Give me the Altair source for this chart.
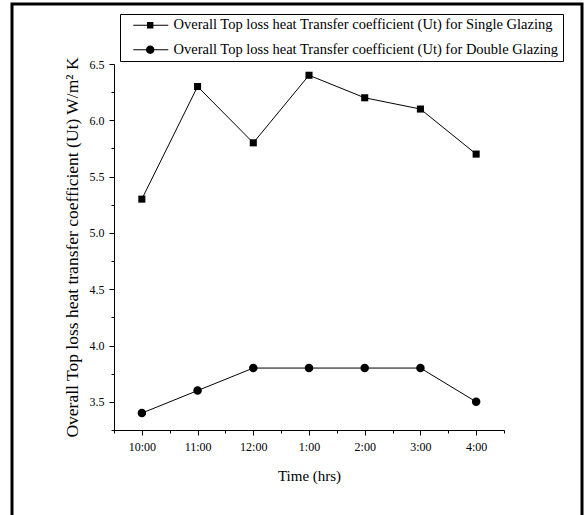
import altair as alt
import pandas as pd

# ---- data ----
times = ["10:00", "11:00", "12:00", "1:00", "2:00", "3:00", "4:00"]
single_glazing = [5.3, 6.3, 5.8, 6.4, 6.2, 6.1, 5.7]
double_glazing = [3.4, 3.6, 3.8, 3.8, 3.8, 3.8, 3.5]
series_names = [
    "Overall Top loss heat Transfer coefficient (Ut) for Single Glazing",
    "Overall Top loss heat Transfer coefficient (Ut) for Double Glazing",
]
x_title = "Time (hrs)"
y_title = "Overall Top loss heat transfer coefficient (Ut) W/m\u00b2 K"

rows = []
for vals, name in zip([single_glazing, double_glazing], series_names):
    for i, (t, v) in enumerate(zip(times, vals)):
        rows.append({"idx": i, "time": t, "value": v, "series": name})
df = pd.DataFrame(rows)

FONT = "Liberation Serif"
label_array = "[" + ",".join("'" + t + "'" for t in times) + "]"
x_vals = [k / 2 for k in range(-1, 14)]          # -0.5 .. 6.5 (major + minor)
y_vals = [3.25 + 0.25 * k for k in range(14)]    # 3.25 .. 6.5 (major + minor)

x_major_test = "datum.value % 1 == 0"
y_major_test = "abs(datum.value*2 - round(datum.value*2)) < 0.001"

x_enc = alt.X(
    "idx:Q",
    scale=alt.Scale(domain=[-0.5, 6.5], nice=False, zero=False),
    axis=alt.Axis(
        values=x_vals,
        labelExpr=x_major_test + " ? " + label_array + "[datum.value] : ''",
        title=x_title,
        grid=False,
        orient="bottom",
        tickSize={"condition": {"test": x_major_test, "value": 5}, "value": 3},
        labelOverlap=False,
        labelFlush=False,
        labelPadding=6,
        titlePadding=16,
    ),
)
y_enc = alt.Y(
    "value:Q",
    scale=alt.Scale(domain=[3.25, 6.5], nice=False, zero=False),
    axis=alt.Axis(
        values=y_vals,
        labelExpr=y_major_test + " ? format(datum.value, '.1f') : ''",
        title=y_title,
        grid=False,
        orient="left",
        tickSize={"condition": {"test": y_major_test, "value": 5}, "value": 3},
        labelOverlap=False,
        labelFlush=False,
        labelPadding=5,
        titlePadding=8,
    ),
)

base = alt.Chart(df)

lines = base.mark_line(color="black", strokeWidth=1).encode(x=x_enc, y=y_enc, detail="series:N")

points = base.mark_point(filled=True, color="black", opacity=1).encode(
    x=x_enc,
    y=y_enc,
    shape=alt.Shape("series:N", scale=alt.Scale(domain=series_names, range=["square", "circle"]), legend=None),
    size=alt.Size("series:N", scale=alt.Scale(domain=series_names, range=[50, 72]), legend=None),
)

# legend glyphs: a thin filled bar (the line) plus the marker, offset to the right
line_bar = "M0.29,-0.08H5.29V0.08H0.29Z"
sq_path = line_bar + "M2.26,-0.45H3.16V0.45H2.26Z"
ci_path = line_bar + "M3.31,0A0.6,0.6,0,1,1,2.11,0A0.6,0.6,0,1,1,3.31,0Z"

legend_layer = base.mark_point(filled=True, color="black", opacity=0).encode(
    x=x_enc,
    y=y_enc,
    shape=alt.Shape(
        "series:N",
        scale=alt.Scale(domain=series_names, range=[sq_path, ci_path]),
        legend=alt.Legend(
            title=None,
            orient="none",
            legendX=6,
            legendY=-50,
            strokeColor="black",
            padding=4,
            symbolSize=196,
            symbolStrokeWidth=0,
            symbolFillColor="black",
            symbolOpacity=1,
            labelFont=FONT,
            labelFontSize=14.5,
            labelColor="black",
            labelOffset=35,
            labelLimit=0,
            rowPadding=9.5,
        ),
    ),
)

frame = alt.Chart(pd.DataFrame({"a": [0]})).mark_rect(
    fillOpacity=0, stroke="black", strokeWidth=3, clip=False
).encode(x=alt.value(-102), x2=alt.value(468), y=alt.value(-60), y2=alt.value(460))

chart = (
    alt.layer(frame, lines, points, legend_layer)
    .resolve_scale(shape="independent", size="independent")
    .properties(
        width=390,
        height=366,
        padding={"left": 114, "top": 64, "right": 82, "bottom": 85},
        autosize=alt.AutoSizeParams(type="none"),
        background="white",
    )
    .configure_view(strokeWidth=0)
    .configure_axis(
        domainColor="black",
        domainWidth=1,
        tickColor="black",
        tickWidth=1,
        labelFont=FONT,
        labelFontSize=12,
        labelColor="black",
        titleFont=FONT,
        titleColor="black",
        titleFontWeight="normal",
    )
    .configure_axisX(titleFontSize=15)
    .configure_axisY(titleFontSize=17.5)
)

chart.save("out.html", embed_options={"renderer": "svg", "actions": False})
